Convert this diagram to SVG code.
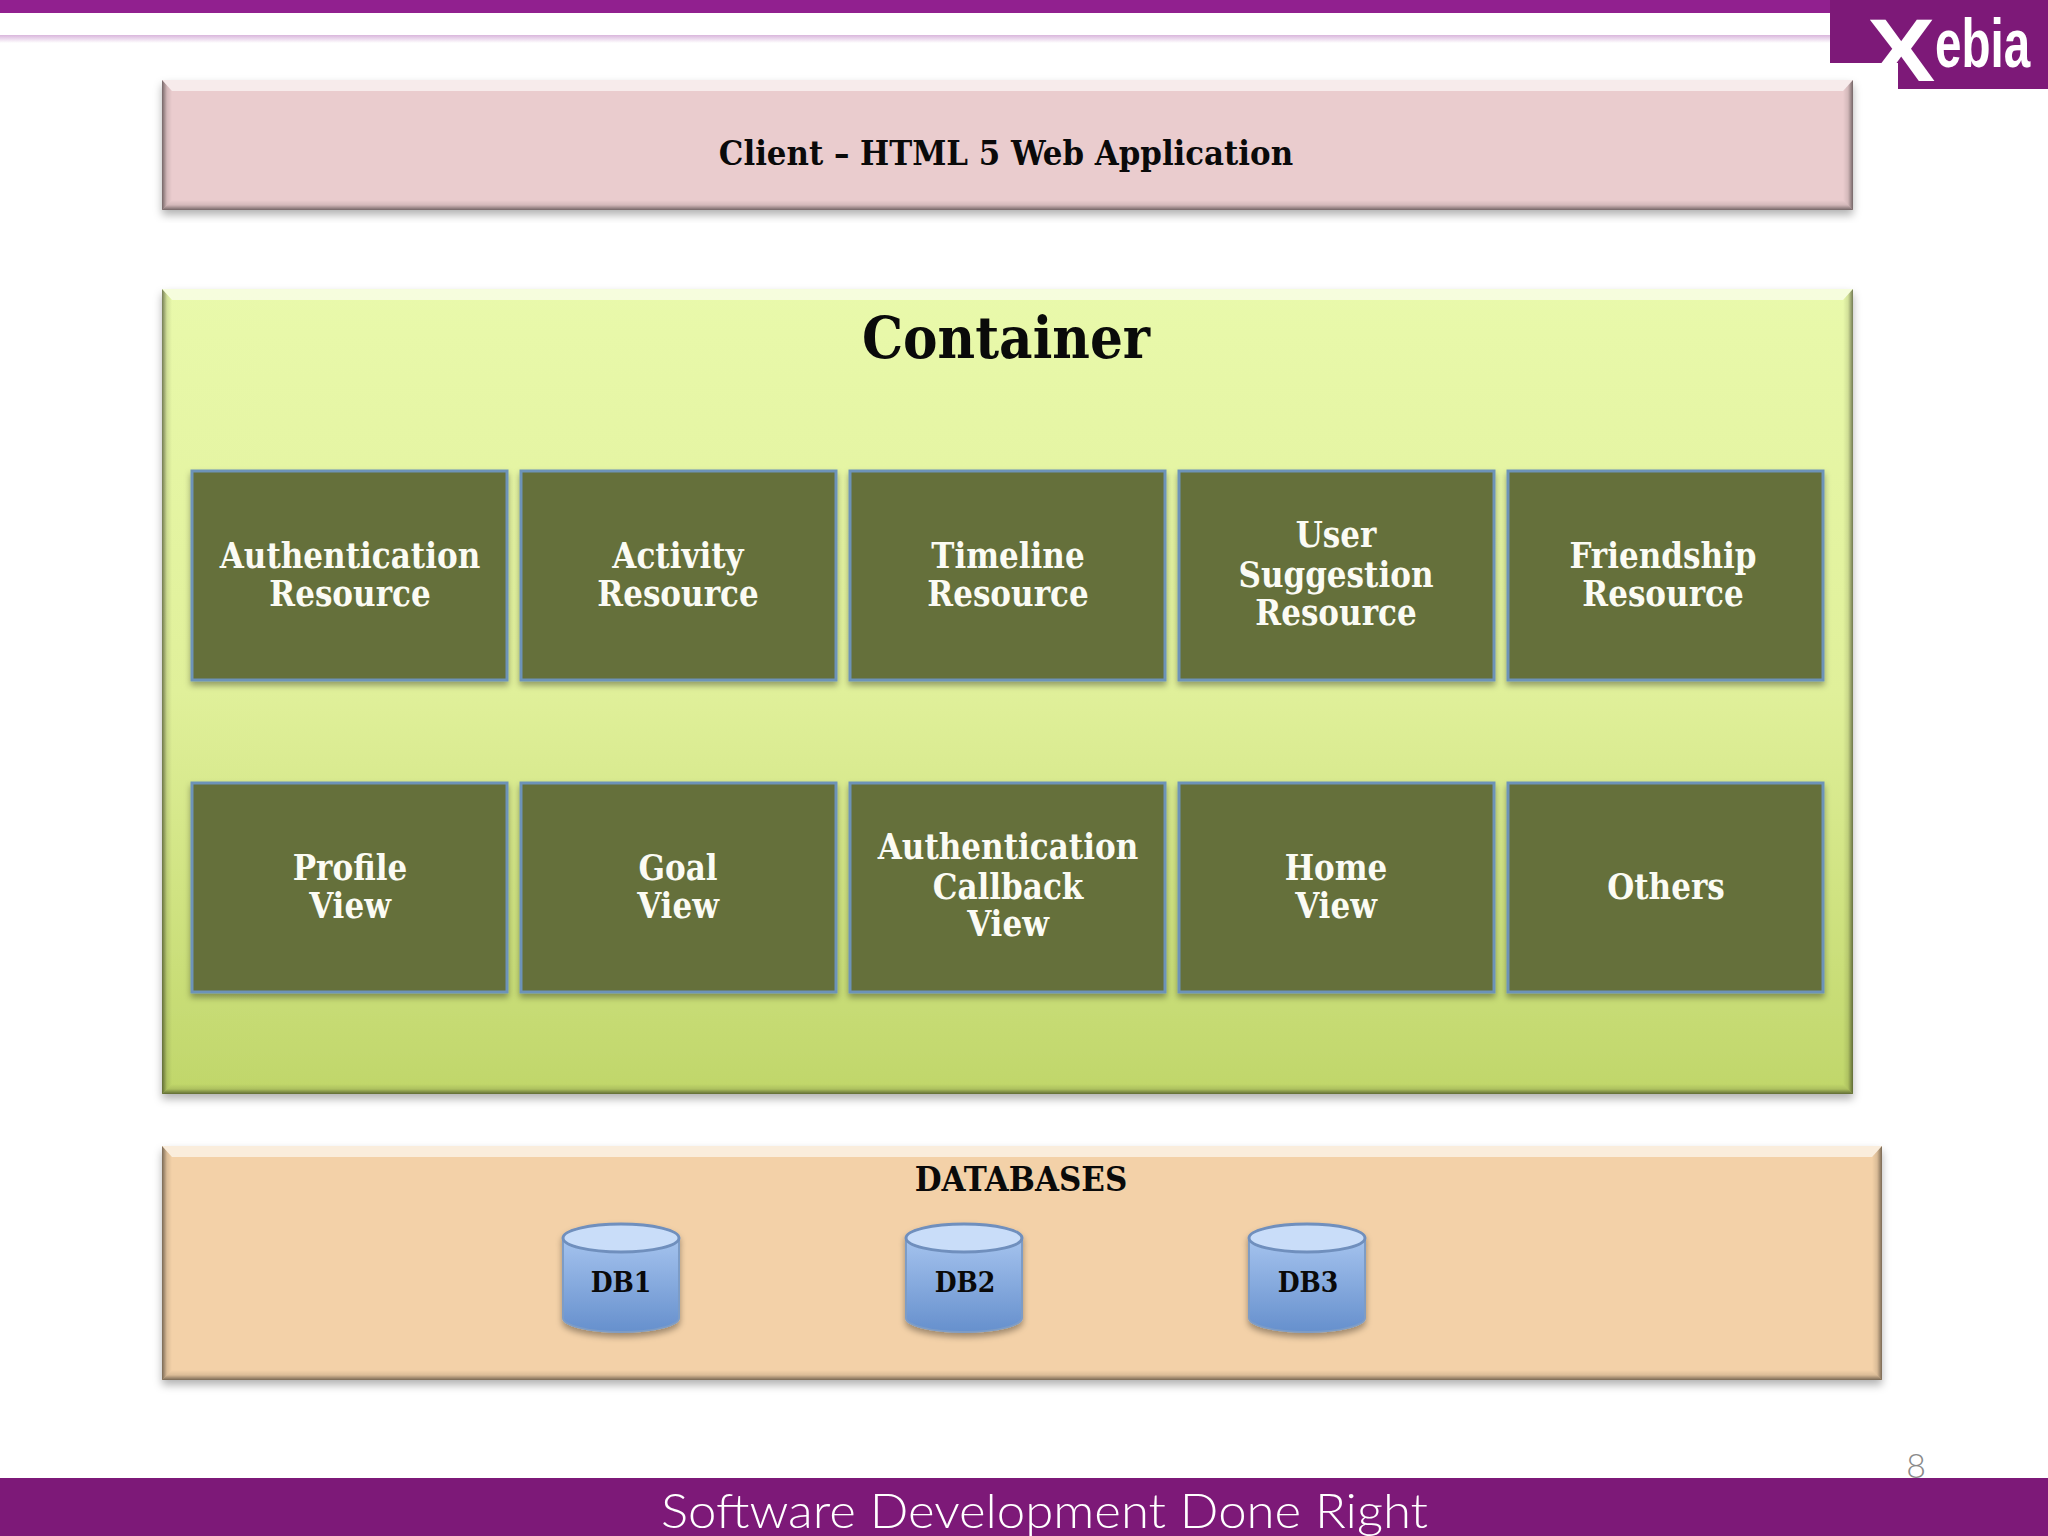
<svg xmlns="http://www.w3.org/2000/svg" width="2048" height="1536" viewBox="0 0 2048 1536">
<defs>
<style>
.s{font-family:"DejaVu Serif Condensed","DejaVu Serif",serif;font-stretch:condensed;font-weight:700;text-anchor:middle;fill:#0a0a0a}
.w{font-size:34.5px;fill:#fbfbf4}
.d{font-size:28px}
.box{fill:#656f3a;stroke:#6d93b8;stroke-width:3}
.top{fill:#fff;fill-opacity:.6}
.l{fill:url(#lg)}
.r{fill:url(#rg)}
.b{fill:url(#bg)}
</style>
<linearGradient id="g" x1="0" y1="0" x2="0" y2="1"><stop offset="0" stop-color="#e9f9ab"/><stop offset=".5" stop-color="#e0f09a"/><stop offset="1" stop-color="#c0d66a"/></linearGradient>
<linearGradient id="c" x1="0" y1="0" x2="0" y2="1"><stop offset="0" stop-color="#a5c3ee"/><stop offset="1" stop-color="#6690cd"/></linearGradient>
<linearGradient id="lg"><stop offset="0" stop-color="#000" stop-opacity=".5"/><stop offset=".5" stop-color="#000" stop-opacity=".1"/><stop offset="1" stop-color="#000" stop-opacity="0"/></linearGradient>
<linearGradient id="rg"><stop offset="0" stop-color="#000" stop-opacity="0"/><stop offset=".5" stop-color="#000" stop-opacity=".1"/><stop offset="1" stop-color="#000" stop-opacity=".5"/></linearGradient>
<linearGradient id="bg" x1="0" y1="0" x2="0" y2="1"><stop offset="0" stop-color="#000" stop-opacity="0"/><stop offset=".5" stop-color="#000" stop-opacity=".1"/><stop offset="1" stop-color="#000" stop-opacity=".5"/></linearGradient>
<linearGradient id="hl" x1="0" y1="0" x2="0" y2="1"><stop offset="0" stop-color="#d9b6dc"/><stop offset="1" stop-color="#d9b6dc" stop-opacity="0"/></linearGradient>
<filter id="sh" x="-5%" y="-5%" width="110%" height="115%"><feDropShadow dx="0" dy="5" stdDeviation="4" flood-color="#000" flood-opacity=".3"/></filter>
<filter id="sm" x="-20%" y="-20%" width="140%" height="150%"><feDropShadow dx="0" dy="4" stdDeviation="3" flood-color="#000" flood-opacity=".35"/></filter>
<g id="cyl">
<path d="M-58 -40V40C-58 47 -34 54 0 54S58 47 58 40V-40Z" fill="url(#c)" stroke="#7d9cc6" stroke-width="2"/>
<ellipse cx="0" cy="-40" rx="58" ry="14" fill="#c9ddf9" stroke="#6f8fbd" stroke-width="3"/>
</g>
</defs>
<rect width="2048" height="1536" fill="#fff"/>
<g id="header">
<rect width="2048" height="13" fill="#91208f"/>
<rect y="35" width="1832" height="8" fill="url(#hl)"/>
</g>
<g id="logo">
<path d="M1830 0H2048V89H1898V63H1830Z" fill="#7d1978"/>
<text transform="translate(1867 81) scale(1.15 1)" font-family="Liberation Sans,sans-serif" font-size="89" font-weight="700" fill="#fff">X</text>
<text transform="translate(1935 67) scale(.7 1)" font-family="Liberation Sans,sans-serif" font-size="68" font-weight="700" fill="#fff">ebia</text>
</g>
<g id="client">
<rect x="162" y="80" width="1691" height="130" fill="#eaccce" filter="url(#sh)"/>
<path class="top" d="M162 80H1853L1843 91H172Z"/>
<path class="l" d="M162 80L172 91V200L162 210Z"/>
<path class="r" d="M1853 80L1843 91V200L1853 210Z"/>
<path class="b" d="M162 210L172 200H1843L1853 210Z"/>
<text class="s" x="1006" y="165" font-size="34.3">Client – HTML 5 Web Application</text>
</g>
<g id="container">
<rect x="162" y="289" width="1691" height="805" fill="url(#g)" filter="url(#sh)"/>
<path class="top" d="M162 289H1853L1843 300H172Z"/>
<path class="l" d="M162 289L172 300V1084L162 1094Z"/>
<path class="r" d="M1853 289L1843 300V1084L1853 1094Z"/>
<path class="b" d="M162 1094L172 1084H1843L1853 1094Z"/>
<text class="s" x="1006" y="358" font-size="57.5">Container</text>
</g>
<g id="n1"><rect class="box" x="192" y="471" width="315" height="209" filter="url(#sm)"/><text class="s w" x="350" y="568">Authentication</text><text class="s w" x="350" y="606">Resource</text></g>
<g id="n2"><rect class="box" x="521" y="471" width="315" height="209" filter="url(#sm)"/><text class="s w" x="678" y="568">Activity</text><text class="s w" x="678" y="606">Resource</text></g>
<g id="n3"><rect class="box" x="850" y="471" width="315" height="209" filter="url(#sm)"/><text class="s w" x="1008" y="568">Timeline</text><text class="s w" x="1008" y="606">Resource</text></g>
<g id="n4"><rect class="box" x="1179" y="471" width="315" height="209" filter="url(#sm)"/><text class="s w" x="1336" y="547">User</text><text class="s w" x="1336" y="587">Suggestion</text><text class="s w" x="1336" y="625">Resource</text></g>
<g id="n5"><rect class="box" x="1508" y="471" width="315" height="209" filter="url(#sm)"/><text class="s w" x="1663" y="568">Friendship</text><text class="s w" x="1663" y="606">Resource</text></g>
<g id="n6"><rect class="box" x="192" y="783" width="315" height="209" filter="url(#sm)"/><text class="s w" x="350" y="880">Profile</text><text class="s w" x="350" y="918">View</text></g>
<g id="n7"><rect class="box" x="521" y="783" width="315" height="209" filter="url(#sm)"/><text class="s w" x="678" y="880">Goal</text><text class="s w" x="678" y="918">View</text></g>
<g id="n8"><rect class="box" x="850" y="783" width="315" height="209" filter="url(#sm)"/><text class="s w" x="1008" y="859">Authentication</text><text class="s w" x="1008" y="899">Callback</text><text class="s w" x="1008" y="936">View</text></g>
<g id="n9"><rect class="box" x="1179" y="783" width="315" height="209" filter="url(#sm)"/><text class="s w" x="1336" y="880">Home</text><text class="s w" x="1336" y="918">View</text></g>
<g id="n10"><rect class="box" x="1508" y="783" width="315" height="209" filter="url(#sm)"/><text class="s w" x="1666" y="899">Others</text></g>
<g id="databases">
<rect x="162" y="1146" width="1720" height="234" fill="#f3d1a8" filter="url(#sh)"/>
<path class="top" d="M162 1146H1882L1872 1157H172Z"/>
<path class="l" d="M162 1146L172 1157V1370L162 1380Z"/>
<path class="r" d="M1882 1146L1872 1157V1370L1882 1380Z"/>
<path class="b" d="M162 1380L172 1370H1872L1882 1380Z"/>
<text class="s" x="1021" y="1191" font-size="34.4">DATABASES</text>
</g>
<g id="db1"><use href="#cyl" x="621" y="1278" filter="url(#sm)"/><text class="s d" x="621" y="1292">DB1</text></g>
<g id="db2"><use href="#cyl" x="964" y="1278" filter="url(#sm)"/><text class="s d" x="965" y="1292">DB2</text></g>
<g id="db3"><use href="#cyl" x="1307" y="1278" filter="url(#sm)"/><text class="s d" x="1308" y="1292">DB3</text></g>
<g id="footer">
<rect y="1478" width="2048" height="58" fill="#7d1978"/>
<text x="661" y="1528" font-family="Lato,Open Sans,sans-serif" font-weight="300" font-size="47" fill="#fff" textLength="767" lengthAdjust="spacingAndGlyphs">Software Development Done Right</text>
<text x="1916" y="1478" font-family="Lato,Open Sans,sans-serif" font-weight="300" font-size="34" fill="#8a8a8a" text-anchor="middle">8</text>
</g>
</svg>
